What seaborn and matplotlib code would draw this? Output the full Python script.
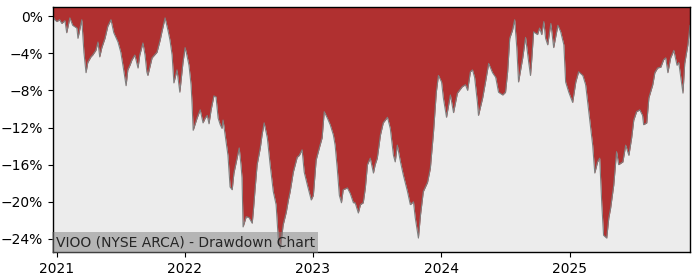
import matplotlib
matplotlib.use("Agg")
import matplotlib.pyplot as plt
import matplotlib.dates as mdates
from matplotlib.ticker import FuncFormatter, MultipleLocator
import seaborn as sns
import pandas as pd

title_text = "VIOO (NYSE ARCA) - Drawdown Chart"

dates = [
    "2020-12-22", "2020-12-27", "2021-01-02", "2021-01-10", "2021-01-16", "2021-01-25", "2021-01-30",
    "2021-02-08", "2021-02-16", "2021-02-28", "2021-03-03", "2021-03-14", "2021-03-20", "2021-03-26",
    "2021-03-31", "2021-04-09", "2021-04-14", "2021-04-23", "2021-04-29", "2021-05-04", "2021-05-10",
    "2021-05-19", "2021-05-27", "2021-06-05", "2021-06-13", "2021-06-25", "2021-07-03", "2021-07-12",
    "2021-07-18", "2021-07-23", "2021-07-29", "2021-08-04", "2021-08-12", "2021-08-21", "2021-08-26",
    "2021-09-04", "2021-09-10", "2021-09-15", "2021-09-18", "2021-09-30", "2021-10-14", "2021-10-23",
    "2021-10-28", "2021-11-06", "2021-11-14", "2021-11-20", "2021-11-26", "2021-12-01", "2021-12-10",
    "2021-12-18", "2021-12-27", "2022-01-02", "2022-01-07", "2022-01-13", "2022-01-19", "2022-01-22",
    "2022-01-25", "2022-01-30", "2022-02-05", "2022-02-14", "2022-02-22", "2022-02-28", "2022-03-06",
    "2022-03-11", "2022-03-17", "2022-03-25", "2022-03-31", "2022-04-06", "2022-04-12", "2022-04-17",
    "2022-04-20", "2022-04-26", "2022-05-04", "2022-05-10", "2022-05-16", "2022-05-21", "2022-05-30",
    "2022-06-05", "2022-06-10", "2022-06-13", "2022-06-16", "2022-06-25", "2022-07-03", "2022-07-12",
    "2022-07-15", "2022-07-20", "2022-07-26", "2022-08-04", "2022-08-09", "2022-08-15", "2022-08-24",
    "2022-09-01", "2022-09-10", "2022-09-18", "2022-09-24", "2022-09-30", "2022-10-03", "2022-10-08",
    "2022-10-17", "2022-10-23", "2022-10-28", "2022-11-06", "2022-11-17", "2022-11-23", "2022-12-01",
    "2022-12-07", "2022-12-16", "2022-12-27", "2023-01-02", "2023-01-10", "2023-01-19", "2023-01-27",
    "2023-02-02", "2023-02-11", "2023-02-19", "2023-02-28", "2023-03-05", "2023-03-11", "2023-03-17",
    "2023-03-23", "2023-03-28", "2023-04-09", "2023-04-17", "2023-04-26", "2023-05-01", "2023-05-10",
    "2023-05-16", "2023-05-24", "2023-05-30", "2023-06-05", "2023-06-13", "2023-06-22", "2023-06-27",
    "2023-07-03", "2023-07-12", "2023-07-20", "2023-08-01", "2023-08-09", "2023-08-18", "2023-08-23",
    "2023-08-29", "2023-09-07", "2023-09-15", "2023-09-27", "2023-10-05", "2023-10-14", "2023-10-19",
    "2023-10-28", "2023-11-03", "2023-11-11", "2023-11-23", "2023-12-01", "2023-12-10", "2023-12-18",
    "2023-12-24", "2024-01-02", "2024-01-07", "2024-01-16", "2024-01-27", "2024-02-05", "2024-02-16",
    "2024-03-01", "2024-03-10", "2024-03-16", "2024-03-24", "2024-03-30", "2024-04-05", "2024-04-13",
    "2024-04-16", "2024-04-28", "2024-05-06", "2024-05-15", "2024-05-26", "2024-06-04", "2024-06-12",
    "2024-06-24", "2024-07-02", "2024-07-08", "2024-07-14", "2024-07-22", "2024-07-28", "2024-08-03",
    "2024-08-08", "2024-08-20", "2024-08-28", "2024-09-06", "2024-09-11", "2024-09-14", "2024-09-20",
    "2024-10-01", "2024-10-07", "2024-10-13", "2024-10-19", "2024-10-24", "2024-10-30", "2024-11-08",
    "2024-11-16", "2024-11-28", "2024-12-06", "2024-12-15", "2024-12-20", "2024-12-29", "2025-01-09",
    "2025-01-18", "2025-01-26", "2025-02-07", "2025-02-15", "2025-02-24", "2025-03-07", "2025-03-13",
    "2025-03-21", "2025-03-27", "2025-04-02", "2025-04-07", "2025-04-16", "2025-04-22", "2025-04-27",
    "2025-05-06", "2025-05-14", "2025-05-20", "2025-06-01", "2025-06-09", "2025-06-18", "2025-06-26",
    "2025-07-02", "2025-07-10", "2025-07-19", "2025-07-27", "2025-07-30", "2025-08-08", "2025-08-14",
    "2025-08-25", "2025-08-31", "2025-09-08", "2025-09-17", "2025-09-25", "2025-10-01", "2025-10-07",
    "2025-10-15", "2025-10-24", "2025-11-02", "2025-11-07", "2025-11-19", "2025-11-24", "2025-12-03",
    "2025-12-09",
]

drawdown = [
    0.0, -0.4, -0.6, -0.4, -0.8, -0.5, -1.8,
    -0.2, -1.0, -1.3, -2.4, -0.4, -3.9, -6.1,
    -5.0, -4.4, -4.2, -3.7, -2.8, -4.4, -3.4,
    -2.4, -1.1, -0.4, -1.8, -2.8, -3.9, -6.0,
    -7.5, -5.8, -5.3, -4.7, -4.2, -5.6, -4.2,
    -2.9, -4.2, -6.0, -6.4, -4.5, -3.9, -2.6,
    -1.7, -0.2, -1.5, -2.6, -4.2, -7.2, -5.8,
    -8.2, -5.0, -3.4, -4.2, -5.3, -7.4, -9.6,
    -12.3, -11.7, -11.0, -10.1, -11.5, -11.0, -10.7,
    -11.6, -10.1, -8.6, -8.7, -11.0, -11.7, -12.1,
    -11.2, -12.8, -15.0, -18.4, -18.7, -16.9, -15.3,
    -14.2, -16.0, -17.4, -22.7, -21.6, -21.7, -22.3,
    -21.1, -18.7, -16.0, -14.2, -12.8, -11.5, -13.1,
    -16.0, -18.9, -20.3, -23.9, -25.0, -24.1, -22.5,
    -21.1, -19.8, -18.9, -16.8, -15.2, -15.0, -14.4,
    -16.8, -18.2, -19.8, -19.3, -15.5, -14.2, -13.1,
    -10.3, -11.0, -11.7, -12.8, -13.9, -16.4, -19.3,
    -20.1, -18.7, -18.5, -19.1, -20.1, -20.1, -21.2,
    -20.3, -20.1, -18.5, -16.0, -15.3, -16.9, -16.0,
    -15.3, -12.8, -11.5, -10.9, -12.1, -15.0, -15.7,
    -13.9, -15.7, -17.1, -18.9, -20.3, -20.0, -21.7,
    -23.9, -21.4, -18.9, -17.9, -16.4, -12.5, -8.2,
    -6.4, -7.1, -8.8, -10.9, -8.5, -10.4, -8.3,
    -7.6, -7.4, -8.0, -6.0, -5.8, -6.6, -9.3,
    -10.7, -8.8, -7.1, -5.1, -6.1, -6.6, -8.2,
    -8.5, -8.2, -6.0, -2.4, -1.5, -0.4, -3.4,
    -7.1, -4.5, -2.3, -5.0, -6.4, -5.0, -1.7,
    -2.0, -1.3, -2.0, -0.6, -2.4, -3.1, -0.8,
    -3.4, -1.0, -1.7, -3.1, -7.1, -8.2, -9.3,
    -7.1, -6.0, -6.4, -7.4, -10.3, -13.9, -16.9,
    -15.7, -15.3, -20.3, -23.6, -23.9, -21.7, -20.7,
    -18.2, -14.6, -16.0, -15.7, -13.9, -15.0, -13.1,
    -11.2, -10.3, -10.1, -10.7, -11.7, -11.5, -8.8,
    -7.4, -6.1, -5.6, -5.5, -4.7, -4.5, -6.1,
    -4.5, -3.7, -5.3, -5.0, -8.3, -5.1, -3.1,
    -1.0,
]

y_ticks = [0, -4, -8, -12, -16, -20, -24]

df = pd.DataFrame({"date": pd.to_datetime(dates), "drawdown": drawdown})

sns.set_style("ticks")
plt.rcParams["font.family"] = ["DejaVu Sans"]

fig = plt.figure(figsize=(7, 2.8), dpi=100)
ax = fig.add_axes([0.0757, 0.1, 0.91, 0.875])
ax.set_facecolor("#ececec")

y_top, y_bot = 0.97, -25.4
ax.fill_between(df["date"], df["drawdown"], y_top, color="#b03030", linewidth=0, zorder=2)
sns.lineplot(data=df, x="date", y="drawdown", ax=ax, color="#7f7f7f", linewidth=0.8, zorder=3)

ax.set_xlim(df["date"].iloc[0], df["date"].iloc[-1])
ax.set_ylim(y_bot, y_top)
ax.set_yticks(y_ticks)
ax.yaxis.set_major_formatter(FuncFormatter(lambda v, p: f"{v:.0f}%".replace("-", "\u2212")))
ax.xaxis.set_major_locator(mdates.YearLocator())
ax.xaxis.set_major_formatter(mdates.DateFormatter("%Y"))
ax.set_xlabel("")
ax.set_ylabel("")
ax.tick_params(labelsize=10, length=3.5, width=0.8, colors="black")
for s in ax.spines.values():
    s.set_color("black")
    s.set_linewidth(1.0)
    s.set_zorder(5)

ax.text(0.004, 0.012, title_text, transform=ax.transAxes, fontsize=10, ha="left", va="bottom",
        zorder=6, bbox=dict(facecolor="gray", alpha=0.5, edgecolor="none", pad=2.5))

fig.savefig("out.png", dpi=100)
